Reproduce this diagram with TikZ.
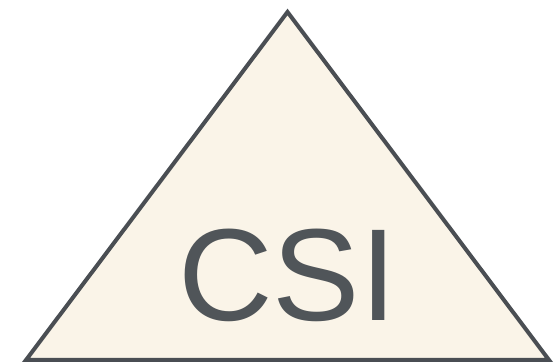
\documentclass[tikz,border=0pt]{standalone}
\usepackage{fontspec}
\setmainfont{Liberation Sans}
\definecolor{strokegray}{HTML}{4A4E53}
\definecolor{fillcream}{HTML}{FAF4E8}
\definecolor{textgray}{HTML}{505559}
\tikzset{tri/.style={draw=strokegray, fill=fillcream, line width=4pt, line join=miter}}
\begin{document}
\begin{tikzpicture}[x=1pt,y=-1pt]
\useasboundingbox (0,0) rectangle (560,363);
\coordinate (apex) at (287.5,12);
\coordinate (bl) at (26,360);
\coordinate (br) at (549,360);
\draw[tri] (apex) -- (bl) -- (br) -- cycle;
\node[anchor=base, text=textgray, inner sep=0pt, font=\fontsize{131}{131}\selectfont] (lbl) at (287.5,321) {CSI};
\end{tikzpicture}
\end{document}
